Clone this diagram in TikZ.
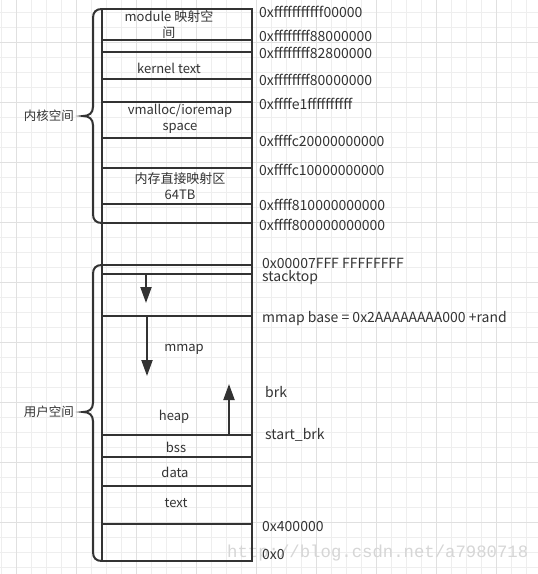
\documentclass[tikz,border=0pt]{standalone}
\usepackage{fontspec}
\setmainfont{Noto Sans CJK SC}
\newfontfamily\wmfont{Liberation Mono}
\usetikzlibrary{arrows.meta}
\definecolor{ink}{HTML}{333333}
\definecolor{minorgrid}{HTML}{EEEEEE}
\definecolor{majorgrid}{HTML}{E0E0E0}
\tikzset{
  seg/.style={draw=ink, line width=2pt},
  lbl/.style={text=ink, font=\fontsize{13}{16}\selectfont, inner sep=0pt, align=center},
  side/.style={text=ink, font=\fontsize{12.5}{15}\selectfont, inner sep=0pt, anchor=east},
  addr/.style={text=ink, font=\fontsize{14}{16}\selectfont, inner sep=0pt, anchor=west},
  growarrow/.style={draw=ink, line width=2pt, -{Triangle[width=11pt,length=16pt]}},
  brace/.style={draw=ink, line width=2pt, line cap=round},
}
\begin{document}
\begin{tikzpicture}[x=1pt,y=-1pt]
\useasboundingbox (0,0) rectangle (538,574);
\fill[white] (0,0) rectangle (538,574);
% grid
\foreach \gx in {1.7,16.7,...,538} {\draw[minorgrid, line width=1pt] (\gx,0) -- (\gx,574);}
\foreach \gy in {12.7,27.7,...,574} {\draw[minorgrid, line width=1pt] (0,\gy) -- (538,\gy);}
\foreach \gx in {16.7,76.7,...,538} {\draw[majorgrid, line width=1pt] (\gx,0) -- (\gx,574);}
\foreach \gy in {42.3,102.3,...,574} {\draw[majorgrid, line width=1pt] (0,\gy) -- (538,\gy);}
% watermark
\node[font=\wmfont\fontsize{17.3}{17.3}\selectfont, text=black!16, anchor=west, inner sep=0pt] (wm) at (227,553) {http://blog.csdn.net/a7980718};
% main column
\coordinate (tl) at (102,9);
\coordinate (br) at (252,561);
\draw[seg] (tl) rectangle (br);
\foreach \ly in {40,52,79,102,138,168,204,223,265,274,316,435,457,486,524} {
  \draw[seg] (102,\ly) -- (252,\ly);
}
% labels inside
\node[lbl] (module) at (169,25) {module 映射空\\间};
\node[lbl] (ktext) at (169,68) {kernel text};
\node[lbl] (vmalloc) at (180,119) {vmalloc/ioremap\\space};
\node[lbl] (direct) at (180,186) {内存直接映射区\\64TB};
\node[lbl] (mmap) at (184,349) {mmap};
\node[lbl] (heap) at (174,417) {heap};
\node[lbl] (bss) at (176,447) {bss};
\node[lbl] (data) at (175,472) {data};
\node[lbl] (text) at (176,503) {text};
% arrows
\coordinate (s0) at (146,274); \coordinate (s1) at (146,303);
\coordinate (m0) at (147,316); \coordinate (m1) at (147,376);
\coordinate (h0) at (229,435); \coordinate (h1) at (229,384);
\draw[growarrow] (s0) -- (s1);
\draw[growarrow] (m0) -- (m1);
\draw[growarrow] (h0) -- (h1);
% addresses
\node[addr] (a1) at (259,12) {0xfffffffffff00000};
\node[addr] (a2) at (259,36) {0xffffffff88000000};
\node[addr] (a3) at (259,53) {0xffffffff82800000};
\node[addr] (a4) at (259,80) {0xffffffff80000000};
\node[addr] (a5) at (259,104) {0xffffe1ffffffffff};
\node[addr] (a6) at (259,141) {0xffffc20000000000};
\node[addr] (a7) at (259,170) {0xffffc10000000000};
\node[addr] (a8) at (259,205) {0xffff810000000000};
\node[addr] (a9) at (259,225) {0xffff800000000000};
\node[addr] (a10) at (262,263) {0x00007FFF FFFFFFFF};
\node[addr] (a11) at (262,278) {stacktop};
\node[addr] (a12) at (262,319) {mmap base = 0x2AAAAAAAA000 +rand};
\node[addr] (a13) at (265,392) {brk};
\node[addr] (a14) at (265,435) {start\_brk};
\node[addr] (a15) at (262,527) {0x400000};
\node[addr] (a16) at (262,555) {0x0};
% braces
\draw[brace] (102,9) .. controls (96,9) and (93,12) .. (93,18) -- (93,107) .. controls (93,113) and (89,116) .. (83,116) .. controls (89,116) and (93,119) .. (93,125) -- (93,214) .. controls (93,220) and (96,223) .. (102,223);
\draw[brace] (102,265) .. controls (96,265) and (93,268) .. (93,274) -- (93,403) .. controls (93,409) and (89,412) .. (83,412) .. controls (89,412) and (93,415) .. (93,421) -- (93,552) .. controls (93,558) and (96,561) .. (102,561);
\node[side] (kern) at (74,116) {内核空间};
\node[side] (user) at (74,412) {用户空间};
\end{tikzpicture}
\end{document}
